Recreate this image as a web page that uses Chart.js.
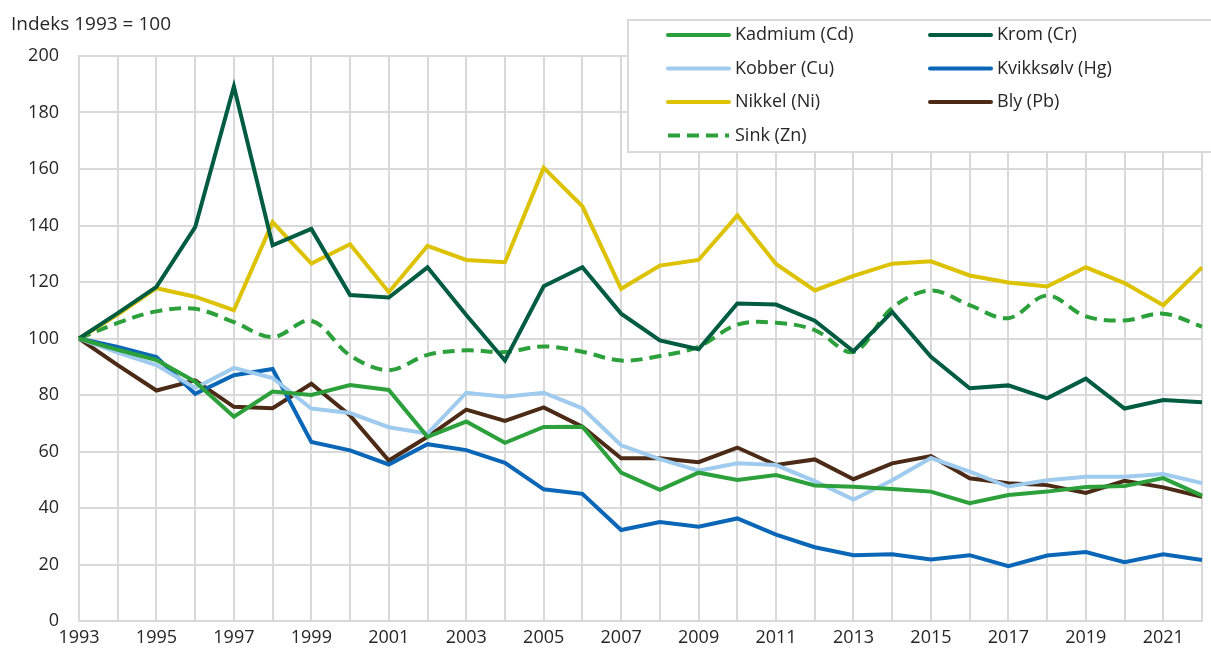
<!DOCTYPE html>
<html>
<head>
<meta charset="utf-8">
<script src="https://cdn.jsdelivr.net/npm/chart.js@4"></script>
<style>
  html, body { margin: 0; padding: 0; background: #fff; }
  #wrap { width: 1211px; height: 653px; position: relative; }
</style>
</head>
<body>
<div id="wrap"><canvas id="myChart"></canvas></div>
<script>
const years = ['1993', '1994', '1995', '1996', '1997', '1998', '1999', '2000', '2001', '2002',
    '2003', '2004', '2005', '2006', '2007', '2008', '2009', '2010', '2011', '2012',
    '2013', '2014', '2015', '2016', '2017', '2018', '2019', '2020', '2021', '2022'];

const kadmium = [100, 96, 92.4, 84.7, 72.3, 81.2, 80, 83.5, 81.8, 65.2,
    70.6, 63.1, 68.7, 68.8, 52.5, 46.4, 52.5, 49.9, 51.7, 48,
    47.5, 46.7, 45.8, 41.7, 44.6, 45.8, 47.4, 47.8, 50.6, 44.4];
const krom = [100, 109, 118.3, 139.4, 189.2, 133, 138.8, 115.4, 114.5, 125.2,
    108.3, 92.2, 118.5, 125.2, 108.8, 99.3, 96.2, 112.4, 112, 106.3,
    95.5, 109.4, 93.5, 82.4, 83.4, 78.8, 85.8, 75.2, 78.2, 77.4];
const kobber = [100, 95, 90.6, 82.5, 89.6, 86, 75.2, 73.6, 68.6, 66.3,
    80.8, 79.4, 80.8, 75.3, 62.2, 57.3, 53.2, 55.8, 55.2, 49.5,
    43, 49.8, 57.7, 52.9, 47.6, 49.8, 51.1, 51.1, 52, 48.8];
const kvikksolv = [100, 97, 93.4, 80.4, 87, 89.2, 63.4, 60.4, 55.4, 62.6,
    60.5, 56, 46.6, 45, 32.2, 35, 33.4, 36.3, 30.6, 26.1,
    23.3, 23.6, 21.8, 23.3, 19.4, 23.2, 24.4, 20.8, 23.6, 21.6];
const nikkel = [100, 108.5, 117.8, 114.8, 110, 141.2, 126.5, 133.4, 116.4, 132.8,
    127.8, 127, 160.4, 146.8, 117.6, 125.8, 127.8, 143.6, 126.4, 117,
    122.2, 126.5, 127.3, 122.3, 119.8, 118.4, 125.2, 119.6, 111.8, 125.2];
const bly = [100, 90.6, 81.6, 85.2, 75.8, 75.3, 84, 72.8, 56.8, 65.2,
    74.8, 70.8, 75.6, 68.8, 57.6, 57.6, 56.2, 61.4, 55.2, 57.2,
    50.2, 55.8, 58.4, 50.5, 48.8, 48.1, 45.3, 49.6, 47.3, 44];
const sink = [100, 105.5, 109.6, 110.5, 105.8, 100.5, 106.3, 94, 88.8, 94.2,
    95.8, 95.2, 97.2, 95.3, 92.2, 93.8, 97.1, 104.9, 105.6, 103,
    95.3, 110.8, 117, 111.8, 107.2, 115.2, 107.8, 106.4, 108.8, 104.2];

const yTicks = [0, 20, 40, 60, 80, 100, 120, 140, 160, 180, 200];

const FONT = '"Open Sans", "Noto Sans", sans-serif';
const TEXT = '#262626';
const GRID = '#d9d9d9';

const series = [
    { label: 'Kadmium (Cd)', data: kadmium, color: '#2ca03a', col: 0, row: 0 },
    { label: 'Krom (Cr)', data: krom, color: '#005c40', col: 1, row: 0 },
    { label: 'Kobber (Cu)', data: kobber, color: '#9fcbee', col: 0, row: 1 },
    { label: 'Kvikksølv (Hg)', data: kvikksolv, color: '#0a66b6', col: 1, row: 1 },
    { label: 'Nikkel (Ni)', data: nikkel, color: '#dcc200', col: 0, row: 2 },
    { label: 'Bly (Pb)', data: bly, color: '#4b2a16', col: 1, row: 2 },
    { label: 'Sink (Zn)', data: sink, color: '#2ca03a', col: 0, row: 3, dash: [12, 7] }
];

// legend box in the top right plus the axis caption, drawn by hand
const boxLegend = {
    id: 'boxLegend',
    afterDraw(chart) {
        const c = chart.ctx;
        c.save();
        c.font = '19px ' + FONT;
        c.fillStyle = TEXT;
        c.textBaseline = 'middle';
        c.textAlign = 'left';
        c.fillText('Indeks 1993 = 100', 11, 25);

        c.fillStyle = '#fff';
        c.fillRect(628, 20, 590, 132);
        c.strokeStyle = GRID;
        c.lineWidth = 2;
        c.strokeRect(628, 20, 590, 132);

        c.font = '18px ' + FONT;
        series.forEach(s => {
            const x0 = s.col === 0 ? 668 : 930;
            const y = 35 + s.row * 33.5;
            c.beginPath();
            c.setLineDash(s.dash || []);
            c.lineCap = s.dash ? 'butt' : 'round';
            c.strokeStyle = s.color;
            c.lineWidth = 4;
            c.moveTo(x0, y);
            c.lineTo(x0 + 61, y);
            c.stroke();
            c.setLineDash([]);
            c.fillStyle = TEXT;
            c.fillText(s.label, x0 + 67, y);
        });
        c.restore();
    }
};

const ctx = document.getElementById('myChart').getContext('2d');
const myChart = new Chart(ctx, {
    type: 'line',
    data: {
        labels: years,
        datasets: series.map(s => ({
            label: s.label,
            data: s.data,
            borderColor: s.color,
            backgroundColor: s.color,
            borderWidth: 4,
            borderDash: s.dash || [],
            tension: s.dash ? 0.35 : 0,
            pointRadius: 0,
            fill: false
        }))
    },
    options: {
        responsive: true,
        maintainAspectRatio: false,
        animation: false,
        layout: { padding: { top: 56, right: 9, left: 0, bottom: 0 } },
        scales: {
            x: {
                offset: false,
                grid: { color: GRID, lineWidth: 2, drawTicks: false },
                border: { color: GRID, width: 2 },
                ticks: {
                    color: TEXT,
                    font: { size: 18, family: FONT },
                    autoSkip: false,
                    maxRotation: 0,
                    padding: 6,
                    callback: (v, i) => (i % 2 === 0 ? years[i] : '')
                },
                afterFit: (scale) => { scale.height = 32; }
            },
            y: {
                min: 0,
                max: 200,
                afterBuildTicks: (scale) => { scale.ticks = yTicks.map(v => ({ value: v })); },
                grid: { color: GRID, lineWidth: 2, drawTicks: false },
                border: { color: GRID, width: 2 },
                ticks: {
                    color: TEXT,
                    font: { size: 18, family: FONT },
                    padding: 20
                },
                afterFit: (scale) => { scale.width = 79; }
            }
        },
        plugins: {
            legend: { display: false },
            tooltip: { enabled: false }
        }
    },
    plugins: [boxLegend]
});
</script>
</body>
</html>
